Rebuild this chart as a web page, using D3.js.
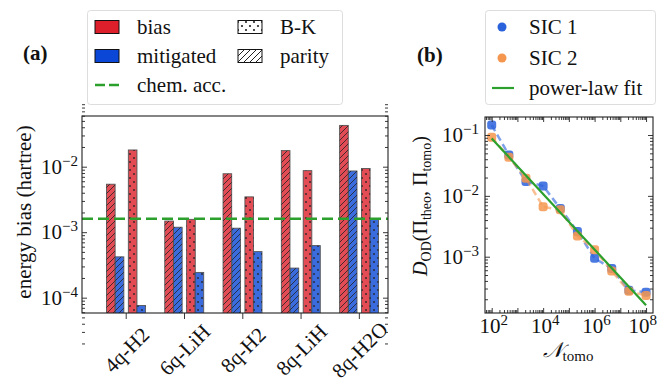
<!DOCTYPE html>
<html>
<head>
<meta charset="utf-8">
<script src="https://cdn.jsdelivr.net/npm/d3@7"></script>
<style>
  body { margin: 0; background: #fff; }
  text { font-family: "Liberation Serif", "DejaVu Serif", serif; fill: #111; }
</style>
</head>
<body>
<script>
// ---- data: panel (a) ----
var molecules = ["4q-H2", "6q-LiH", "8q-H2", "8q-LiH", "8q-H2O"];
var biasParity = [5.4e-3, 1.48e-3, 7.8e-3, 1.76e-2, 4.27e-2];
var mitigatedParity = [4.2e-4, 1.19e-3, 1.15e-3, 2.83e-4, 8.6e-3];
var biasBK = [1.8e-2, 1.57e-3, 3.46e-3, 8.7e-3, 9.4e-3];
var mitigatedBK = [7.6e-5, 2.43e-4, 5.05e-4, 6.24e-4, 1.57e-3];
var chemAcc = 1.6e-3;
var yTicksA = [1e-4, 1e-3, 1e-2];

// ---- data: panel (b) ----
var nTomo = [1e2, 4.64e2, 2.15e3, 1e4, 4.64e4, 2.15e5, 1e6, 4.64e6, 2.15e7, 1e8];
var sic1 = [0.146, 0.047, 0.0172, 0.0145, 0.0062, 0.0026, 0.00094, 0.00064, 0.00028, 0.00026];
var sic2 = [0.092, 0.043, 0.0195, 0.0066, 0.0059, 0.0022, 0.0013, 0.00058, 0.00027, 0.00023];
var fitEnds = [[1e2, 0.088], [1e8, 1.6e-4]];
var xTicksB = [1e2, 1e4, 1e6, 1e8];
var yTicksB = [1e-3, 1e-2, 1e-1];

var RED = "#dc1f2a", BLUE = "#0a47d6", GREEN = "#2ca02c";
var C1 = "#2a62dc", C2 = "#f5964f";
var FS = "21px";

var svg = d3.select("body").append("svg").attr("width", 660).attr("height", 384);
var defs = svg.append("defs");

// hatch patterns
var ph = defs.append("pattern").attr("id", "hatch").attr("patternUnits", "userSpaceOnUse")
    .attr("width", 6).attr("height", 6);
ph.append("path").attr("d", "M0,6 L6,0 M-1.5,1.5 L1.5,-1.5 M4.5,7.5 L7.5,4.5")
    .attr("stroke", "#222").attr("stroke-width", 1);
var pd = defs.append("pattern").attr("id", "dots").attr("patternUnits", "userSpaceOnUse")
    .attr("width", 8).attr("height", 8);
pd.append("circle").attr("cx", 2).attr("cy", 2).attr("r", 1.1).attr("fill", "#222");
pd.append("circle").attr("cx", 6).attr("cy", 6).attr("r", 1.1).attr("fill", "#222");

function minorTicks(lo, hi) {
    var out = [];
    for (var e = lo; e < hi; e++)
        for (var m = 2; m <= 9; m++) out.push(m * Math.pow(10, e));
    return out;
}

// "10" with a superscript exponent; returns the text selection
function powText(g, exp, y) {
    var t = g.append("text").attr("y", y).style("font-size", FS);
    t.append("tspan").text("10");
    t.append("tspan").attr("dy", -8).style("font-size", "15px").text(exp);
    return t;
}

// ================= panel (a) =================
var A = { x0: 82, x1: 388, y0: 116, y1: 313 };
var xa = d3.scaleLinear().domain([-0.75, 4.5]).range([A.x0, A.x1]);
var ya = d3.scaleLog().domain([Math.pow(10, -4.234), Math.pow(10, -1.226)]).range([A.y1, A.y0]);

var seriesA = [
    { values: biasParity, color: RED, pat: "hatch", off: -0.33 },
    { values: mitigatedParity, color: BLUE, pat: "hatch", off: -0.18 },
    { values: biasBK, color: RED, pat: "dots", off: 0.045 },
    { values: mitigatedBK, color: BLUE, pat: "dots", off: 0.19 }
];
var barW = 0.148;

var ga = svg.append("g");
ga.append("clipPath").attr("id", "clipA").append("rect")
    .attr("x", A.x0).attr("y", A.y0).attr("width", A.x1 - A.x0).attr("height", A.y1 - A.y0);
var bars = ga.append("g").attr("clip-path", "url(#clipA)");
seriesA.forEach(function (s) {
    var sel = bars.selectAll(null).data(s.values).enter();
    sel.append("rect")
        .attr("x", function (d, i) { return xa(i + s.off); })
        .attr("y", function (d) { return ya(d); })
        .attr("width", xa(barW) - xa(0))
        .attr("height", function (d) { return A.y1 - ya(d) + 2; })
        .attr("fill", s.color).attr("fill-opacity", 0.8)
        .attr("stroke", "#555").attr("stroke-width", 0.9);
    sel.append("rect")
        .attr("x", function (d, i) { return xa(i + s.off); })
        .attr("y", function (d) { return ya(d); })
        .attr("width", xa(barW) - xa(0))
        .attr("height", function (d) { return A.y1 - ya(d) + 2; })
        .attr("fill", "url(#" + s.pat + ")").attr("opacity", 0.8);
});

// chemical accuracy line
ga.append("line").attr("x1", A.x0).attr("x2", A.x1)
    .attr("y1", ya(chemAcc)).attr("y2", ya(chemAcc))
    .attr("stroke", GREEN).attr("stroke-width", 2.6).attr("stroke-dasharray", "11,5");

// axes
ga.append("g").attr("transform", "translate(" + A.x0 + ",0)")
    .call(d3.axisLeft(ya).tickValues(yTicksA).tickSize(-5).tickFormat(""));
ga.append("g").attr("transform", "translate(" + A.x0 + ",0)")
    .call(d3.axisLeft(ya).tickValues(minorTicks(-5, -1)).tickSize(-3).tickFormat(""));
ga.append("g").attr("transform", "translate(" + A.x1 + ",0)")
    .call(d3.axisRight(ya).tickValues(yTicksA).tickSize(-5).tickFormat(""));
ga.append("g").attr("transform", "translate(" + A.x1 + ",0)")
    .call(d3.axisRight(ya).tickValues(minorTicks(-5, -1)).tickSize(-3).tickFormat(""));
ga.append("g").attr("transform", "translate(0," + A.y1 + ")")
    .call(d3.axisBottom(xa).tickValues(d3.range(molecules.length)).tickSize(6).tickFormat(""));
ga.selectAll(".domain").remove();
ga.selectAll(".tick line").attr("stroke", "#222").attr("stroke-width", 0.9);
ga.append("rect").attr("x", A.x0).attr("y", A.y0).attr("width", A.x1 - A.x0)
    .attr("height", A.y1 - A.y0).attr("fill", "none").attr("stroke", "#222").attr("stroke-width", 1.1);

yTicksA.forEach(function (v) {
    var t = powText(ga, "\u2212" + Math.round(-Math.log10(v)), ya(v) + 7);
    t.attr("x", A.x0 - 4 - t.node().getComputedTextLength());
});

molecules.forEach(function (m, i) {
    ga.append("text")
        .attr("transform", "translate(" + (xa(i) + 1) + "," + (A.y1 + 37) + ") rotate(-45)")
        .attr("text-anchor", "middle").attr("dominant-baseline", "central")
        .style("font-size", FS).text(m);
});

ga.append("text").attr("transform", "translate(31,212) rotate(-90)")
    .attr("text-anchor", "middle").style("font-size", FS).text("energy bias (hartree)");

ga.append("text").attr("x", 23).attr("y", 60).style("font-size", FS)
    .style("font-weight", "bold").text("(a)");

// legend (a)
var la = svg.append("g");
la.append("rect").attr("x", 87.5).attr("y", 10.5).attr("width", 255).attr("height", 94)
    .attr("rx", 3).attr("fill", "#fff").attr("stroke", "#ddd");
var legA = [
    { label: "bias", fill: RED, pat: null, col: 0, row: 0 },
    { label: "mitigated", fill: BLUE, pat: null, col: 0, row: 1 },
    { label: "B-K", fill: "#fff", pat: "dots", col: 1, row: 0 },
    { label: "parity", fill: "#fff", pat: "hatch", col: 1, row: 1 }
];
var colX = [95, 238], rowY = [27, 56, 85];
legA.forEach(function (e) {
    var x = colX[e.col], y = rowY[e.row];
    la.append("rect").attr("x", x).attr("y", y - 6.5).attr("width", 24).attr("height", 13)
        .attr("fill", e.fill).attr("stroke", "#111").attr("stroke-width", 1);
    if (e.pat) la.append("rect").attr("x", x).attr("y", y - 6.5).attr("width", 24).attr("height", 13)
        .attr("fill", "url(#" + e.pat + ")");
    la.append("text").attr("x", x + 42).attr("y", y + 7).style("font-size", FS).text(e.label);
});
la.append("line").attr("x1", 95).attr("x2", 119).attr("y1", rowY[2]).attr("y2", rowY[2])
    .attr("stroke", GREEN).attr("stroke-width", 2.6).attr("stroke-dasharray", "10,4");
la.append("text").attr("x", 137).attr("y", rowY[2] + 7).style("font-size", FS).text("chem.  acc.");

// ================= panel (b) =================
var B = { x0: 485, x1: 653, y0: 117, y1: 313 };
var xb = d3.scaleLog().domain([Math.pow(10, 1.74), Math.pow(10, 8.27)]).range([B.x0, B.x1]);
var yb = d3.scaleLog().domain([Math.pow(10, -3.925), Math.pow(10, -0.704)]).range([B.y1, B.y0]);

var gb = svg.append("g");
gb.append("clipPath").attr("id", "clipB").append("rect")
    .attr("x", B.x0).attr("y", B.y0).attr("width", B.x1 - B.x0).attr("height", B.y1 - B.y0);
var plot = gb.append("g").attr("clip-path", "url(#clipB)");

var line = d3.line().x(function (d) { return xb(d[0]); }).y(function (d) { return yb(d[1]); });
[{ v: sic1, c: C1 }, { v: sic2, c: C2 }].forEach(function (s) {
    var pts = nTomo.map(function (n, i) { return [n, s.v[i]]; });
    plot.append("path").datum(pts).attr("d", line).attr("fill", "none")
        .attr("stroke", s.c).attr("stroke-opacity", 0.6).attr("stroke-width", 2.5)
        .attr("stroke-dasharray", "7,4");
    plot.selectAll(null).data(pts).enter().append("rect")
        .attr("x", function (d) { return xb(d[0]) - 4.5; })
        .attr("y", function (d) { return yb(d[1]) - 4.5; })
        .attr("width", 9).attr("height", 9).attr("rx", 3)
        .attr("fill", s.c).attr("fill-opacity", 0.85);
});
plot.append("path").datum(fitEnds).attr("d", line).attr("fill", "none")
    .attr("stroke", GREEN).attr("stroke-width", 2.2);

var xMinor = minorTicks(1, 9);
var xMajor = d3.range(2, 9).map(function (e) { return Math.pow(10, e); });
var yMinor = minorTicks(-4, 0);
[["axisBottom", B.y1], ["axisTop", B.y0]].forEach(function (a) {
    gb.append("g").attr("transform", "translate(0," + a[1] + ")")
        .call(d3[a[0]](xb).tickValues(xMajor).tickSize(-5).tickFormat(""));
    gb.append("g").attr("transform", "translate(0," + a[1] + ")")
        .call(d3[a[0]](xb).tickValues(xMinor.filter(function (v) { return v > xb.domain()[0] && v < xb.domain()[1]; }))
            .tickSize(-3).tickFormat(""));
});
[["axisLeft", B.x0], ["axisRight", B.x1]].forEach(function (a) {
    gb.append("g").attr("transform", "translate(" + a[1] + ",0)")
        .call(d3[a[0]](yb).tickValues(yTicksB).tickSize(-5).tickFormat(""));
    gb.append("g").attr("transform", "translate(" + a[1] + ",0)")
        .call(d3[a[0]](yb).tickValues(yMinor.filter(function (v) { return v > yb.domain()[0] && v < yb.domain()[1]; }))
            .tickSize(-3).tickFormat(""));
});
gb.selectAll(".domain").remove();
gb.selectAll(".tick line").attr("stroke", "#222").attr("stroke-width", 0.9);
gb.append("rect").attr("x", B.x0).attr("y", B.y0).attr("width", B.x1 - B.x0)
    .attr("height", B.y1 - B.y0).attr("fill", "none").attr("stroke", "#222").attr("stroke-width", 1.1);

xTicksB.forEach(function (v) {
    var t = powText(gb, Math.round(Math.log10(v)), B.y1 + 20);
    var w = t.node().getComputedTextLength();
    t.attr("x", Math.min(xb(v) - w / 2 + 2, 657 - w));
});
yTicksB.forEach(function (v) {
    var t = powText(gb, "\u2212" + Math.round(-Math.log10(v)), yb(v) + 7);
    t.attr("x", B.x0 - 6 - t.node().getComputedTextLength());
});

var xl = gb.append("text").attr("x", 568).attr("y", 357).attr("text-anchor", "middle")
    .style("font-size", FS);
xl.append("tspan").style("font-style", "italic").text("\uD835\uDCA9");
xl.append("tspan").attr("dy", 4).style("font-size", "15px").text("tomo");

var yl = gb.append("text").attr("transform", "translate(427,206) rotate(-90)")
    .attr("text-anchor", "middle").style("font-size", "20px");
yl.append("tspan").style("font-style", "italic").text("D");
yl.append("tspan").attr("dy", 4).style("font-size", "14px").text("OD");
yl.append("tspan").attr("dy", -4).text("(\u03A0");
yl.append("tspan").attr("dy", 4).style("font-size", "14px").text("theo");
yl.append("tspan").attr("dy", -4).text(", \u03A0");
yl.append("tspan").attr("dy", 4).style("font-size", "14px").text("tomo");
yl.append("tspan").attr("dy", -4).text(")");

gb.append("text").attr("x", 417).attr("y", 62).style("font-size", FS)
    .style("font-weight", "bold").text("(b)");

// legend (b)
var lb = svg.append("g");
lb.append("rect").attr("x", 485.5).attr("y", 10.5).attr("width", 170).attr("height", 94)
    .attr("rx", 3).attr("fill", "#fff").attr("stroke", "#ddd");
[{ label: "SIC 1", c: C1 }, { label: "SIC 2", c: C2 }].forEach(function (e, i) {
    var y = rowY[i] + i * 2;
    lb.append("circle").attr("cx", 502).attr("cy", y).attr("r", 4.5).attr("fill", e.c);
    lb.append("text").attr("x", 529).attr("y", y + 7).style("font-size", FS).text(e.label);
});
lb.append("line").attr("x1", 492).attr("x2", 514).attr("y1", 88).attr("y2", 88)
    .attr("stroke", GREEN).attr("stroke-width", 2.2);
lb.append("text").attr("x", 529).attr("y", 95).style("font-size", FS).text("power-law fit");
</script>
</body>
</html>
